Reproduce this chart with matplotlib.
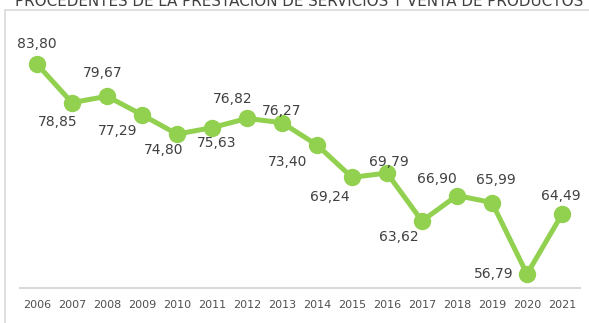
import matplotlib.pyplot as plt
from matplotlib.patches import Rectangle

years = [str(y) for y in range(2006, 2022)]
values = [83.80, 78.85, 79.67, 77.29, 74.80, 75.63, 76.82, 76.27,
          73.40, 69.24, 69.79, 63.62, 66.90, 65.99, 56.79, 64.49]

# label offsets in pixels (dx, dy) from each marker
offsets = [(0, 20), (-14, -19), (-4, 23), (-24, -16), (-13, -16), (5, -15),
           (-14, 19), (0, 12), (-29, -17), (-22, -20), (2, 11), (-23, -16),
           (-20, 17), (4, 23), (-33, 0), (-1, 18)]

GREEN = "#92d050"
TEXT = "#404040"

fig = plt.figure(figsize=(5.89, 3.23), dpi=100)
fig.patches.append(Rectangle((5 / 589, -0.1), 1.1, 1 - 10 / 323 + 0.1,
                             transform=fig.transFigure, fill=False,
                             edgecolor="#d9d9d9", linewidth=1.2))
fig.text(299 / 589, 1 - 6 / 323, "PROCEDENTES DE LA PRESTACIÓN DE SERVICIOS Y VENTA DE PRODUCTOS",
         ha="center", va="baseline", fontsize=10.9, color=TEXT)

ax = fig.add_axes([19.5 / 589, 35 / 323, 560 / 589, 272 / 323])
x = list(range(len(years)))
ax.plot(x, values, color=GREEN, linewidth=3.6, marker="o", markersize=11.5,
        solid_capstyle="round", zorder=3)

for xi, v, (dx, dy) in zip(x, values, offsets):
    ax.annotate(f"{v:.2f}".replace(".", ","), (xi, v), xytext=(dx, dy),
                textcoords="offset pixels", ha="center", va="center",
                fontsize=10, color=TEXT)

ax.set_xlim(-0.5, len(years) - 0.5)
ax.set_ylim(55, 90)
ax.set_xticks(x)
ax.set_xticklabels(years, fontsize=8, color="#505050")
ax.set_yticks([])
ax.tick_params(axis="x", length=0, pad=9)
for s in ["top", "right", "left"]:
    ax.spines[s].set_visible(False)
ax.spines["bottom"].set_color("#d9d9d9")
ax.spines["bottom"].set_linewidth(1.5)
ax.patch.set_visible(False)

fig.savefig("out.png", dpi=100)
